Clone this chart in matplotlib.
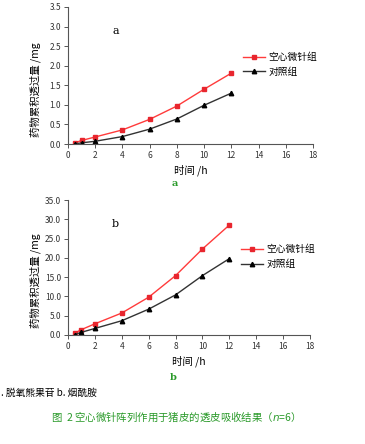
import matplotlib
matplotlib.use("Agg")
from matplotlib import pyplot as plt
from matplotlib.ticker import FormatStrFormatter
import numpy as np

plt.rcParams['font.family'] = ['Noto Sans CJK SC', 'DejaVu Sans']

hours = [0.5, 1, 2, 4, 6, 8, 10, 12]
# a: 脱氧熊果苷
a_mn = [0.03, 0.09, 0.18, 0.36, 0.63, 0.97, 1.40, 1.81]
a_ctrl = [0.0, 0.03, 0.07, 0.19, 0.38, 0.64, 0.99, 1.30]
# b: 烟酰胺
b_mn = [0.5, 1.4, 2.9, 5.7, 9.8, 15.4, 22.3, 28.5]
b_ctrl = [0.1, 0.7, 1.7, 3.7, 6.7, 10.4, 15.4, 19.8]

W, H = 365, 444
fig = plt.figure(figsize=(W / 100, H / 100), dpi=100)


def panel(rect, mn, ctrl, ymax, ystep, tag, leg_y):
    ax = fig.add_axes(rect)
    ax.plot(hours, mn, color='#ff3b3b', lw=1.0, marker='s', ms=3.2,
            mfc='#e8262e', mec='#e8262e', label='空心微针组')
    ax.plot(hours, ctrl, color='#333333', lw=1.0, marker='^', ms=3.2,
            mfc='black', mec='black', label='对照组')
    ax.set_xlim(0, 18)
    ax.set_ylim(0, ymax)
    ax.set_xticks(np.arange(0, 19, 2))
    ax.set_yticks(np.arange(0, ymax + ystep / 2, ystep))
    ax.yaxis.set_major_formatter(FormatStrFormatter('%.1f'))
    for s in ['top', 'right']:
        ax.spines[s].set_visible(False)
    for s in ['left', 'bottom']:
        ax.spines[s].set_color('#555555')
        ax.spines[s].set_linewidth(0.8)
    ax.tick_params(direction='out', length=3, width=0.7, color='#555555',
                   labelsize=6, labelcolor='#333333', pad=2)
    ax.set_xlabel('时间 /h', fontsize=7.5, labelpad=3)
    ax.set_ylabel('药物累积透过量 /mg', fontsize=7.5)
    ax.yaxis.set_label_coords(-0.11, 0.40)
    ax.text(0.18, 0.80, tag, transform=ax.transAxes, fontsize=8,
            family='DejaVu Serif')
    ax.legend(loc='upper left', bbox_to_anchor=(0.70, leg_y), frameon=False,
              fontsize=7, handlelength=2.2, handletextpad=0.4,
              labelspacing=0.5, borderaxespad=0)
    return ax


panel([68 / W, 1 - 144 / H, 245 / W, 137 / H], a_mn, a_ctrl, 3.5, 0.5, 'a', 0.70)
panel([68 / W, 1 - 335 / H, 242 / W, 135 / H], b_mn, b_ctrl, 35.0, 5.0, 'b', 0.70)

fig.text(175 / W, 1 - 184 / H, 'a', fontsize=7, color='#2a9a2a',
         fontweight='bold', family='DejaVu Serif', ha='center', va='center')
fig.text(173 / W, 1 - 377 / H, 'b', fontsize=7, color='#2a9a2a',
         fontweight='bold', family='DejaVu Serif', ha='center', va='center')
fig.text(1 / W, 1 - 393 / H, '. 脱氧熊果苷 b. 烟酰胺', fontsize=7,
         ha='left', va='center')
fig.text(173 / W, 1 - 417 / H, '图  2 空心微针阵列作用于猪皮的透皮吸收结果（$\\it{n}$=6）',
         fontsize=7.5, color='#2a9a2a', ha='center', va='center')

fig.savefig('out.png', dpi=100)
